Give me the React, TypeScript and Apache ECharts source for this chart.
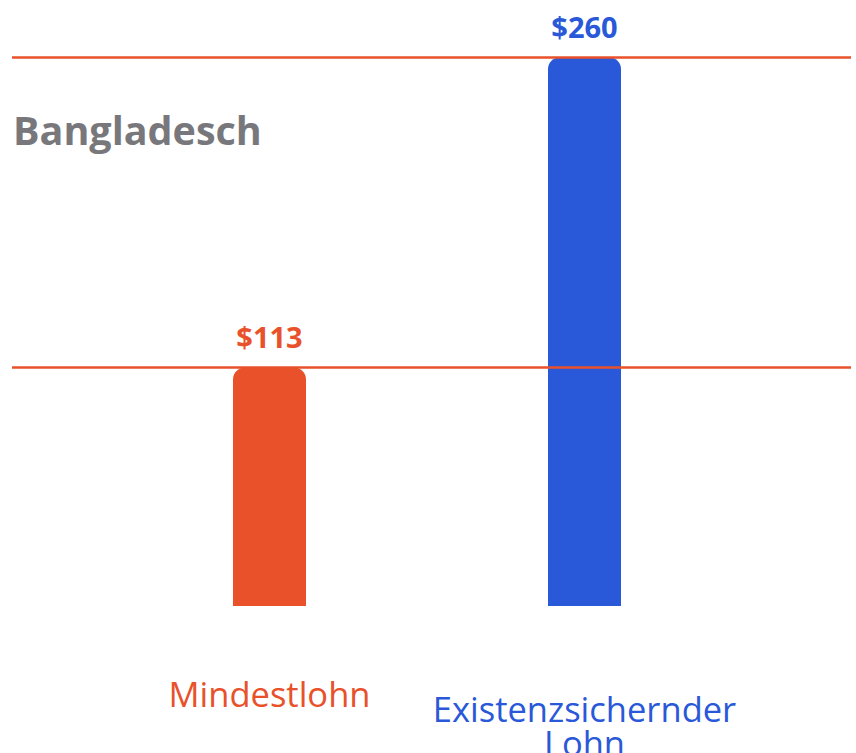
import React, { useEffect, useRef } from "react";
import * as echarts from "echarts";

const categories = ["Mindestlohn", "Existenzsichernder Lohn"];
const values = [113, 260];
const barColors = ["#E8512A", "#2958D8"];
const referenceLines = [113, 260];
const titleText = "Bangladesch";

const FONT = "'Open Sans', 'Noto Sans', sans-serif";

export default function App() {
  const ref = useRef<HTMLDivElement>(null);
  useEffect(() => {
    if (!ref.current) return;
    const chart = echarts.init(ref.current, null, { renderer: "svg" });
    const yAxisBase = {
      type: "value" as const,
      min: 0,
      max: 280,
      show: false,
      splitLine: { show: false },
    };
    chart.setOption({
      animation: false,
      backgroundColor: "#ffffff",
      textStyle: { fontFamily: FONT },
      title: {
        text: titleText,
        left: 8,
        top: 105,
        textStyle: { fontFamily: FONT, fontSize: 39.5, fontWeight: "bold", color: "#78787C" },
      },
      grid: [
        { left: 112, right: 114, top: 15, bottom: 147, outerBoundsMode: "none", containLabel: false },
        { left: 12, right: 5, top: 15, bottom: 147, outerBoundsMode: "none", containLabel: false },
      ],
      xAxis: [
        {
          type: "category",
          gridIndex: 0,
          data: categories,
          axisLine: { show: false },
          axisTick: { show: false },
          axisLabel: {
            margin: 119,
            interval: 0,
            verticalAlign: "middle",
            formatter: (v: string) => {
              const i = categories.indexOf(v);
              if (i === 0) return `{a|${v}}\n{sp| }`;
              const parts = v.split(" ");
              return `{b|${parts[0]}}\n{b|${parts.slice(1).join(" ")}}`;
            },
            rich: {
              a: { color: barColors[0], fontSize: 34.5, fontFamily: FONT, lineHeight: 34 },
              sp: { fontSize: 10, lineHeight: 64 },
              b: { color: barColors[1], fontSize: 34.5, fontFamily: FONT, lineHeight: 34 },
            },
          },
        },
        { type: "category", gridIndex: 1, data: categories, show: false },
      ],
      yAxis: [
        { ...yAxisBase, gridIndex: 0 },
        { ...yAxisBase, gridIndex: 1 },
      ],
      series: [
        {
          type: "bar",
          xAxisIndex: 0,
          yAxisIndex: 0,
          barWidth: 73,
          data: values.map((v, i) => ({ value: v, itemStyle: { color: barColors[i] }, label: { color: barColors[i] } })),
          itemStyle: { borderRadius: [12, 12, 0, 0] },
          label: {
            show: true,
            position: "top",
            distance: 16,
            formatter: (p: any) => `$${p.value}`,
            fontFamily: FONT,
            fontSize: 29,
            fontWeight: "bold",
          },
          z: 2,
        },
        {
          type: "line",
          xAxisIndex: 1,
          yAxisIndex: 1,
          data: [],
          z: 5,
          markLine: {
            silent: true,
            symbol: "none",
            label: { show: false },
            lineStyle: { color: "#E8512A", width: 2.5, type: "solid" },
            data: referenceLines.map((y) => ({ yAxis: y })),
          },
        },
      ],
    });
    return () => chart.dispose();
  }, []);
  return (
    <div
      ref={ref}
      style={{ position: "fixed", left: 0, top: 0, width: 856, height: 753, background: "#fff" }}
    />
  );
}
